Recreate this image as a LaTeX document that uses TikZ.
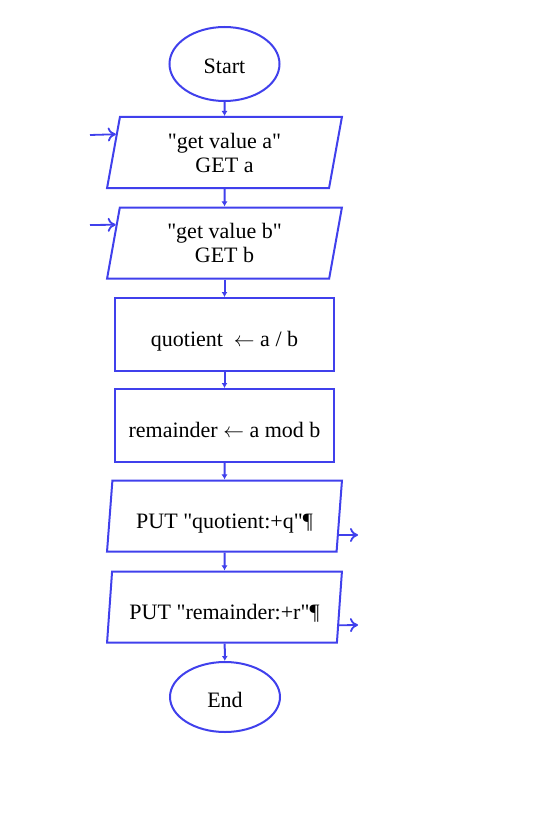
\documentclass[tikz,border=0pt]{standalone}
\usepackage{fontspec}
\setmainfont{Liberation Serif}
\usetikzlibrary{shapes.geometric,arrows.meta,calc}
\definecolor{flowblue}{RGB}{64,64,236}
\begin{document}
\begin{tikzpicture}[x=1pt,y=-1pt,
  every node/.style={font=\fontsize{22}{24}\selectfont},
  term/.style={draw=flowblue,line width=2pt,ellipse,minimum width=110pt,minimum height=74pt,inner sep=0pt,text height=20pt,text depth=0pt},
  io/.style={draw=flowblue,line width=2pt,trapezium,trapezium left angle=80,trapezium right angle=100,trapezium stretches=true,minimum width=235pt,minimum height=71pt,align=center,inner sep=0pt},
  proc/.style={draw=flowblue,line width=2pt,rectangle,minimum width=219pt,minimum height=73pt},
  lowtext/.style={text height=24pt,text depth=0pt},
  link/.style={draw=flowblue,line width=2pt,-{Latex[length=5pt,width=6pt]}},
  flow/.style={draw=flowblue,line width=1.8pt,-{To[length=8pt,width=14pt]}}]
\useasboundingbox (0,0) rectangle (548,824);
\node[term] (start) at (224.5,64) {Start};
\node[io] (geta) at (224.5,152.5) {\textquotedbl get value a\textquotedbl\\GET a};
\node[io] (getb) at (224.5,243) {\textquotedbl get value b\textquotedbl\\GET b};
\node[proc,lowtext] (quot) at (224.5,334.5) {quotient\ \ $\leftarrow$ a / b};
\node[proc,lowtext] (rem) at (224.5,425.5) {remainder $\leftarrow$ a mod b};
\node[io,lowtext] (putq) at (224.5,516) {PUT \textquotedbl quotient:+q\textquotedbl ¶};
\node[io,lowtext] (putr) at (224.5,607) {PUT \textquotedbl remainder:+r\textquotedbl ¶};
\node[term,minimum height=70pt] (end) at (225,697) {End};
\draw[link] (start) -- (geta);
\draw[link] (geta) -- (getb);
\draw[link] (getb) -- (quot);
\draw[link] (quot) -- (rem);
\draw[link] (rem) -- (putq);
\draw[link] (putq) -- (putr);
\draw[link] (putr) -- (end);
% data in and out
\coordinate (ina) at (90,135);
\coordinate (inb) at (90,225);
\coordinate (outq) at (358,535);
\coordinate (outr) at (358,625);
\draw[flow] (ina) -- ($(geta.top left corner)!0.25!(geta.bottom left corner)$);
\draw[flow] (inb) -- ($(getb.top left corner)!0.25!(getb.bottom left corner)$);
\draw[flow] ($(putq.top right corner)!0.76!(putq.bottom right corner)$) -- (outq);
\draw[flow] ($(putr.top right corner)!0.75!(putr.bottom right corner)$) -- (outr);
\end{tikzpicture}
\end{document}
